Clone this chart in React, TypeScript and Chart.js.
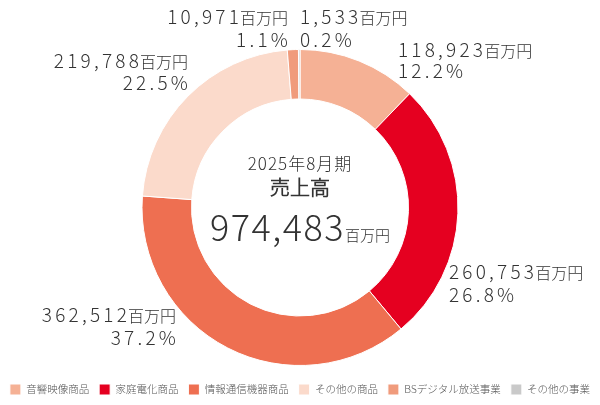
import { useEffect, useRef } from 'react';
import { Chart, registerables } from 'chart.js';

Chart.register(...registerables);

const categories = ['音響映像商品', '家庭電化商品', '情報通信機器商品', 'その他の商品', 'BSデジタル放送事業', 'その他の事業'];
const salesMillionYen = [118923, 260753, 362512, 219788, 10971, 1533];
const shareLabels = ['12.2%', '26.8%', '37.2%', '22.5%', '1.1%', '0.2%'];
const periodLabel = '2025年8月期';
const titleLabel = '売上高';
const totalLabel = '974,483';
const unitLabel = '百万円';

const sliceColors = ['#F5B195', '#E50020', '#EE6F51', '#FBDACB', '#F09B7C', '#C9C9C9'];

// Placement of the outside value labels (x anchor, first and second baseline, alignment)
const labelPlacement: { x: number; y1: number; y2: number; align: 'left' | 'right' }[] = [
  { x: 398, y1: 57, y2: 78, align: 'left' },
  { x: 449, y1: 279, y2: 302, align: 'left' },
  { x: 176, y1: 322, y2: 345, align: 'right' },
  { x: 188, y1: 68, y2: 90, align: 'right' },
  { x: 288, y1: 24, y2: 47, align: 'right' },
  { x: 300, y1: 24, y2: 47, align: 'left' },
];

const FONT = '"Noto Sans CJK JP Light", "Noto Sans CJK JP", "Noto Sans", sans-serif';
const TEXT = '#333333';

const labelsPlugin = {
  id: 'labelsPlugin',
  afterDraw(chart: any) {
    const ctx: CanvasRenderingContext2D = chart.ctx;
    ctx.save();
    ctx.fillStyle = TEXT;
    ctx.textBaseline = 'alphabetic';

    const meta = chart.getDatasetMeta(0);
    const arc = meta.data[0];
    const cx = arc.x;
    const cy = arc.y;

    // center texts
    (ctx as any).letterSpacing = '1px';
    ctx.font = `300 17px ${FONT}`;
    ctx.textAlign = 'center';
    ctx.fillText(periodLabel, cx, cy - 38);
    (ctx as any).letterSpacing = '0px';
    ctx.font = `bold 20px ${FONT}`;
    ctx.fillText(titleLabel, cx, cy - 13);

    ctx.textAlign = 'left';
    (ctx as any).letterSpacing = '1.5px';
    ctx.font = `300 36px ${FONT}`;
    const wBig = ctx.measureText(totalLabel).width;
    (ctx as any).letterSpacing = '0px';
    ctx.font = `300 15px ${FONT}`;
    const wUnitC = ctx.measureText(unitLabel).width;
    const startX = cx - (wBig + wUnitC) / 2;
    (ctx as any).letterSpacing = '1.5px';
    ctx.font = `300 36px ${FONT}`;
    ctx.fillText(totalLabel, startX, cy + 33);
    (ctx as any).letterSpacing = '0px';
    ctx.font = `300 15px ${FONT}`;
    ctx.fillText(unitLabel, startX + wBig, cy + 33);

    // outside labels
    salesMillionYen.forEach((v, i) => {
      const p = labelPlacement[i];
      const num = v.toLocaleString('en-US');
      (ctx as any).letterSpacing = '3.2px';
      ctx.font = `300 19px ${FONT}`;
      const wNum = ctx.measureText(num).width;
      const wPct = ctx.measureText(shareLabels[i]).width;
      (ctx as any).letterSpacing = '0px';
      ctx.font = `300 16px ${FONT}`;
      const wUnit = ctx.measureText(unitLabel).width;
      ctx.textAlign = 'left';
      let x0: number;
      let xPct: number;
      if (p.align === 'left') {
        x0 = p.x;
        xPct = p.x;
      } else {
        x0 = p.x - wUnit - wNum + 2;
        xPct = p.x - wPct + 3;
      }
      (ctx as any).letterSpacing = '3.2px';
      ctx.font = `300 19px ${FONT}`;
      ctx.fillText(num, x0, p.y1);
      ctx.fillText(shareLabels[i], xPct, p.y2);
      (ctx as any).letterSpacing = '0px';
      ctx.font = `300 16px ${FONT}`;
      ctx.fillText(unitLabel, x0 + wNum - 2, p.y1);
    });
    ctx.restore();
  },
};

export default function App() {
  const ref = useRef<HTMLCanvasElement | null>(null);
  useEffect(() => {
    if (!ref.current) return;
    const chart = new Chart(ref.current, {
      type: 'doughnut',
      data: {
        labels: categories,
        datasets: [
          {
            data: salesMillionYen,
            backgroundColor: sliceColors,
            borderColor: '#ffffff',
            borderWidth: 1,
          },
        ],
      },
      options: {
        responsive: false,
        animation: false,
        radius: 158,
        cutout: 114,
        rotation: 0,
        layout: { padding: { top: 41, bottom: 0, left: -8, right: -8 } },
        plugins: {
          legend: {
            position: 'bottom',
            labels: {
              boxWidth: 11,
              boxHeight: 11,
              padding: 10,
              color: '#555555',
              font: { family: FONT, size: 10.5 },
            },
          },
          tooltip: { enabled: false },
        },
      },
      plugins: [labelsPlugin],
    });
    return () => chart.destroy();
  }, []);
  return (
    <div style={{ position: 'absolute', left: 0, top: 0, width: 600, height: 405, background: '#fff' }}>
      <canvas ref={ref} width={600} height={405} />
    </div>
  );
}
